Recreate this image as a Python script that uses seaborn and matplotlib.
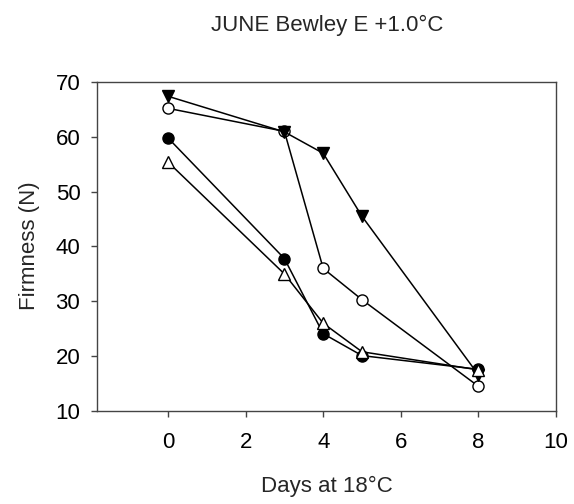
import matplotlib
matplotlib.use("Agg")
import matplotlib.pyplot as plt
import seaborn as sns
import pandas as pd

days = [0, 3, 4, 5, 8]
open_circle = [65.2, 61.0, 36.0, 30.3, 14.5]
filled_circle = [59.8, 37.8, 24.1, 20.1, 17.6]
filled_tri_down = [67.4, 60.9, 57.0, 45.5, 16.6]
open_tri_up = [55.4, 35.0, 26.0, 20.8, 17.5]

title = "JUNE Bewley E +1.0°C"
xlabel = "Days at 18°C"
ylabel = "Firmness (N)"
xticks = [0, 2, 4, 6, 8, 10]
yticks = [10, 20, 30, 40, 50, 60, 70]

sns.set_theme(style="white")
plt.rcParams['font.family'] = ['Liberation Sans', 'DejaVu Sans']

fig = plt.figure(figsize=(5.74, 5.04), dpi=100)
ax = fig.add_axes([97/574, 1 - 411/504, (556 - 97)/574, (411 - 82)/504])

series = [
    (open_circle, "o", "white", 8.0),
    (filled_circle, "o", "black", 8.0),
    (filled_tri_down, "v", "black", 9.0),
    (open_tri_up, "^", "white", 9.0),
]
for vals, mk, fc, ms in series:
    df = pd.DataFrame({"day": days, "val": vals})
    sns.lineplot(data=df, x="day", y="val", ax=ax, color="black", linewidth=1.1,
                 marker=mk, markerfacecolor=fc, markeredgecolor="black",
                 markeredgewidth=1.0, markersize=ms)

ax.set_xlim(-1.83, 10)
ax.set_ylim(10, 70)
ax.set_xticks(xticks)
ax.set_yticks(yticks)
ax.tick_params(axis="both", direction="out", length=4, width=1, color="#444444",
               labelsize=16, labelcolor="black", bottom=True, left=True)
ax.tick_params(axis="x", pad=11)
ax.tick_params(axis="y", pad=8)
for sp in ax.spines.values():
    sp.set_color("#444444")
    sp.set_linewidth(1.0)
    sp.set_visible(True)

ax.set_xlabel(xlabel, fontsize=16)
ax.set_ylabel(ylabel, fontsize=16)
ax.xaxis.set_label_coords(326.5/574, 1 - 486/504, transform=fig.transFigure)
ax.yaxis.set_label_coords(30/574, 1 - 246/504, transform=fig.transFigure)
ax.xaxis.label.set_va("center")
ax.yaxis.label.set_va("center")
fig.text(327/574, 1 - 25/504, title, ha="center", va="center", fontsize=16)

fig.savefig("out.png", dpi=100)
